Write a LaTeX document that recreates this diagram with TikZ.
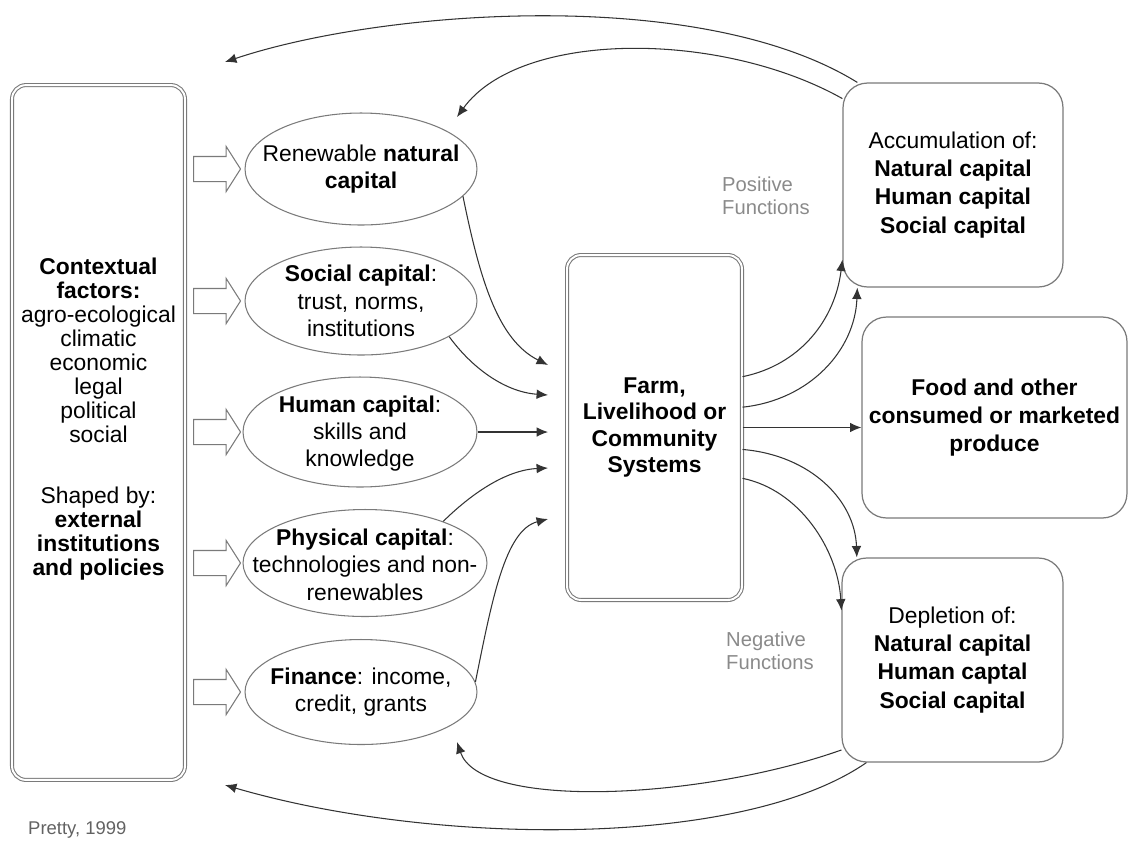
\documentclass[tikz,border=0pt]{standalone}
\usepackage{fontspec}
\setmainfont{Liberation Sans}
\usetikzlibrary{arrows.meta, shapes.geometric, shapes.arrows}
\definecolor{cline}{HTML}{333333}
\definecolor{cframe}{HTML}{7A7A7A}
\definecolor{cnote}{HTML}{8A8A8A}
\tikzset{
  dbox/.style={draw=cframe, double=white, double distance=1.1pt, line width=0.6pt, rounded corners=8pt, align=center, inner sep=2pt},
  rbox/.style={draw=cframe, line width=0.7pt, rounded corners=14pt, align=center, inner sep=2pt, font=\fontsize{13}{16}\selectfont},
  capell/.style={ellipse, draw=cframe, line width=0.6pt, inner sep=0pt},
  captext/.style={align=center, inner sep=0pt, font=\fontsize{13}{15.5}\selectfont},
  inarrow/.style={single arrow, draw=cframe, line width=0.6pt, inner sep=0.24cm, minimum height=0.94cm, single arrow head extend=0.2cm, single arrow tip angle=115, anchor=tail},
  flow/.style={-{Latex[length=6.5pt, width=5.5pt]}, draw=cline, line width=0.6pt},
  note/.style={align=left, anchor=west, text=cnote, font=\fontsize{11.5}{13}\selectfont},
}
\begin{document}
\begin{tikzpicture}[x=0.02cm, y=-0.02cm]
  \useasboundingbox (0,0) rectangle (1129,843);
  % contextual factors
  \node[dbox, minimum width=3.46cm, minimum height=13.9cm] (ctx) at (98.5,432.5) {};
  \node[align=center, inner sep=0pt, font=\fontsize{13}{13.7}\selectfont] (ctxtext) at (98.5,419) {\textbf{Contextual}\\\textbf{factors:}\\agro-ecological\\climatic\\economic\\legal\\political\\social\\[21pt]Shaped by:\\\textbf{external}\\\textbf{institutions}\\\textbf{and policies}};
  % capitals
  \node[capell, minimum width=4.64cm, minimum height=2.24cm] (ren) at (361,169) {};
  \node[captext] (rentext) at (ren) {Renewable \textbf{natural}\\\textbf{capital}};
  \node[capell, minimum width=4.64cm, minimum height=2.16cm] (soc) at (361,301) {};
  \node[captext] (soctext) at (soc) {\textbf{Social capital}:\\trust, norms,\\institutions};
  \node[capell, minimum width=4.68cm, minimum height=2.2cm] (hum) at (360,432) {};
  \node[captext] (humtext) at ([yshift=-1pt]hum.center) {\textbf{Human capital}:\\skills and\\knowledge};
  \node[capell, minimum width=4.88cm, minimum height=2.14cm] (phy) at (365,563) {};
  \node[captext] (phytext) at ([yshift=-1pt]phy.center) {\textbf{Physical capital}:\\technologies and non-\\renewables};
  \node[capell, minimum width=4.64cm, minimum height=2.1cm] (fin) at (361,692) {};
  \node[captext] (fintext) at (fin) {\textbf{Finance}: income,\\credit, grants};
  \node[inarrow] (aren) at (193,169) {};
  \node[inarrow] (asoc) at (193,301) {};
  \node[inarrow] (ahum) at (193,432) {};
  \node[inarrow] (aphy) at (193,563) {};
  \node[inarrow] (afin) at (193,692) {};
  % system and outcomes
  \node[dbox, minimum width=3.5cm, minimum height=6.9cm, font=\fontsize{13}{15}\selectfont\bfseries] (sys) at (654.5,427.5) {Farm,\\Livelihood or\\Community\\Systems};
  \node[rbox, minimum width=4.4cm, minimum height=4.08cm] (acc) at (953,185) {Accumulation of:\\\textbf{Natural capital}\\\textbf{Human capital}\\\textbf{Social capital}};
  \node[rbox, minimum width=5.3cm, minimum height=4.02cm, font=\fontsize{13}{16}\selectfont\bfseries] (food) at (994.5,417.5) {Food and other\\consumed or marketed\\produce};
  \node[rbox, minimum width=4.42cm, minimum height=4.08cm] (dep) at (952.5,660) {Depletion of:\\\textbf{Natural capital}\\\textbf{Human captal}\\\textbf{Social capital}};
  \node[note] (posf) at (716,196) {Positive\\Functions};
  \node[note] (negf) at (720,651) {Negative\\Functions};
  \node[anchor=west, text=cframe!80!black, font=\fontsize{10.5}{12}\selectfont] (src) at (22,830) {Pretty, 1999};
  % entry points and loose ends
  \coordinate (e1) at (548,365);
  \coordinate (e2) at (548,395);
  \coordinate (e3) at (548,432);
  \coordinate (e4) at (548,468);
  \coordinate (e5) at (548,519);
  \coordinate (t1) at (225,62);
  \coordinate (t2) at (457,117);
  \coordinate (t3) at (457,742);
  \coordinate (t4) at (225,785);
  % inputs
  \draw[flow] (ren.-15) .. controls (480,280) and (498,340) .. (e1);
  \draw[flow] (soc.-22) .. controls (472,368) and (505,392) .. (e2);
  \draw[flow] (hum.east) -- (e3);
  \draw[flow] (phy.28) .. controls (470,495) and (505,470) .. (e4);
  \draw[flow] (fin.5) .. controls (492,600) and (505,530) .. (e5);
  % outputs
  \draw[flow] (sys.30) .. controls (800,365) and (835,320) .. (acc.214);
  \draw[flow] (sys.13) .. controls (810,400) and (855,350) .. (acc.227);
  \draw[flow] (sys.east) -- (sys.east -| food.west);
  \draw[flow] (sys.-14) .. controls (810,455) and (855,500) .. (dep.133);
  \draw[flow] (sys.-30) .. controls (800,490) and (838,550) .. (dep.156);
  % feedback
  \draw[flow] (acc.133) .. controls (700,-15) and (380,10) .. (t1);
  \draw[flow] (acc.142) .. controls (720,30) and (520,30) .. (t2);
  \draw[flow] (dep.219) .. controls (700,800) and (480,810) .. (t3);
  \draw[flow] (dep.230) .. controls (740,850) and (430,845) .. (t4);
\end{tikzpicture}
\end{document}
